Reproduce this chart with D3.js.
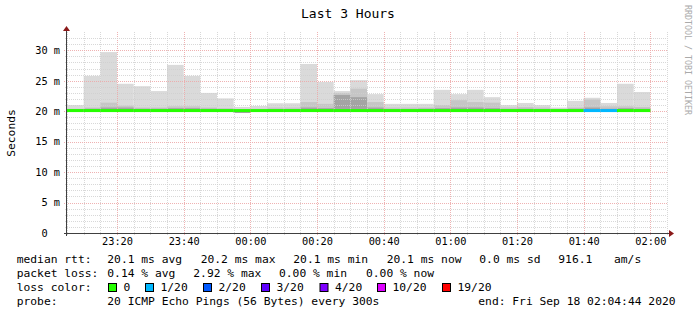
<!DOCTYPE html>
<html>
<head>
<meta charset="utf-8">
<script src="https://cdn.jsdelivr.net/npm/d3@7"></script>
<style>
body { margin: 0; background: #fff; }
text { font-family: "DejaVu Sans Mono", monospace; }
</style>
</head>
<body>
<svg id="chart"></svg>
<script>
// 5 minute steps (start of each step)
const stepTimes = ["23:05","23:10","23:15","23:20","23:25","23:30","23:35","23:40","23:45","23:50","23:55",
  "00:00","00:05","00:10","00:15","00:20","00:25","00:30","00:35","00:40","00:45","00:50","00:55",
  "01:00","01:05","01:10","01:15","01:20","01:25","01:30","01:35","01:40","01:45","01:50","01:55"];
// smoke layers in ms
const smokeMax  = [21.0,25.8,29.7,24.5,24.1,23.3,27.6,25.8,23.0,22.1,20.7, 20.85,21.3,21.3,27.75,24.8,23.3,25.1,22.8,21.2,21.2,21.2,23.5, 22.8,23.5,22.3,21.0,21.35,21.0,20.6,21.7,22.2,21.35,24.5,23.15];
const smokeMid  = [20.4,20.6,21.4,20.9,20.6,20.6,20.8,20.8,20.6,20.5,20.3, 20.4,20.6,20.6,21.5,21.2,23.0,23.7,21.5,20.6,20.6,20.6,21.0, 21.8,21.5,21.4,20.6,20.7,20.6,20.4,20.6,21.9,20.8,20.8,20.7];
const smokeCore = [20.3,20.4,20.6,20.6,20.4,20.4,20.5,20.5,20.4,20.3,20.1, 20.2,20.3,20.3,20.6,20.5,22.65,22.3,20.6,20.3,20.3,20.4,20.5, 20.6,20.6,20.5,20.3,20.4,20.3,20.2,20.4,20.6,20.4,20.5,20.4];
const smokeMin  = [19.9,19.9,19.9,19.9,19.9,19.9,19.9,19.9,19.9,19.9,19.7, 19.9,19.9,19.9,19.9,19.9,19.9,19.9,19.9,19.9,19.9,19.9,19.9, 19.9,19.9,19.9,19.9,19.9,19.9,19.9,19.9,19.9,19.9,19.9,19.9];
const medianRtt = [20.1,20.1,20.1,20.1,20.1,20.1,20.1,20.1,20.1,20.1,20.1, 20.1,20.1,20.1,20.1,20.1,20.1,20.1,20.1,20.1,20.1,20.1,20.1, 20.1,20.1,20.1,20.1,20.1,20.1,20.1,20.1,20.1,20.1,20.1,20.1];
const lossCount = [0,0,0,0,0,0,0,0,0,0,0, 0,0,0,0,0,0,0,0,0,0,0,0, 0,0,0,0,0,0,0,0,1,1,0,0];

const lossLabels = ["0","1/20","2/20","3/20","4/20","10/20","19/20"];
const lossColors = ["#26ff00","#00b8ff","#0059ff","#5e00ff","#7e00ff","#dd00ff","#ff0000"];
const lossLevels = [0,1,2,3,4,10,19];

const yTicks = [0,5,10,15,20,25,30];

const W = 697, H = 315;
const plotL = 67, plotR = 667, plotT = 32, plotB = 233;

const svg = d3.select("#chart").attr("width", W).attr("height", H);

const toDate = s => {
  const [h, m] = s.split(":").map(Number);
  return new Date(Date.UTC(2020, 8, h < 12 ? 18 : 17, h, m));
};
const t0 = new Date(Date.UTC(2020, 8, 17, 23, 5));
const t1 = new Date(Date.UTC(2020, 8, 18, 2, 5));

const x = d3.scaleUtc().domain([t0, t1]).range([plotL, plotR]);
const y = d3.scaleLinear().domain([0, 33]).range([plotB, plotT]);

const steps = stepTimes.map((s, i) => ({
  t: toDate(s), t2: d3.utcMinute.offset(toDate(s), 5),
  max: smokeMax[i], mid: smokeMid[i], core: smokeCore[i], min: smokeMin[i],
  med: medianRtt[i], loss: lossCount[i]
}));

// smoke
const layers = [["max", "#dadada"], ["mid", "#c6c6c6"], ["core", "#a4a4a4"]];
layers.forEach(([key, col]) => {
  svg.append("g").selectAll("rect").data(steps).enter().append("rect")
    .attr("x", d => x(d.t))
    .attr("width", d => x(d.t2) - x(d.t))
    .attr("y", d => y(d[key]))
    .attr("height", d => y(d.min) - y(d[key]))
    .attr("fill", col);
});

// grid
const grid = svg.append("g");
const minorCol = "#cfcfcf", majorCol = "#eeaaaa";
const minorX = d3.utcMinute.every(5).range(t0, d3.utcMinute.offset(t1, 1));
minorX.forEach(t => {
  const major = t.getUTCMinutes() % 20 === 0;
  const px = Math.round(x(t)) + 0.5;
  grid.append("line").attr("x1", px).attr("x2", px).attr("y1", plotT).attr("y2", plotB + (major ? 3 : 2))
    .attr("stroke", major ? majorCol : minorCol).attr("stroke-dasharray", "1,1").attr("opacity", major ? 0.9 : 0.8);
});
d3.range(1, 33).forEach(v => {
  const major = v % 5 === 0;
  const py = Math.round(y(v)) + 0.5;
  grid.append("line").attr("x1", plotL - (major ? 3 : 2)).attr("x2", plotR).attr("y1", py).attr("y2", py)
    .attr("stroke", major ? majorCol : minorCol).attr("stroke-dasharray", "1,1").attr("opacity", major ? 0.9 : 0.8);
});

// median line coloured by loss
const lossColor = n => lossColors[lossLevels.findIndex((l, i) => n >= l && (i === lossLevels.length - 1 || n < lossLevels[i + 1]))];
svg.append("g").selectAll("line").data(steps).enter().append("line")
  .attr("x1", d => x(d.t)).attr("x2", d => x(d.t2))
  .attr("y1", d => y(d.med)).attr("y2", d => y(d.med))
  .attr("stroke", d => lossColor(d.loss)).attr("stroke-width", 3);

// axes
const axisCol = "#404040", arrowCol = "#8b1a1a";
svg.append("line").attr("x1", plotL - 3).attr("x2", plotR + 3).attr("y1", plotB + 0.5).attr("y2", plotB + 0.5)
  .attr("stroke", axisCol);
svg.append("line").attr("x1", plotL - 0.5).attr("x2", plotL - 0.5).attr("y1", plotT - 2).attr("y2", plotB + 3)
  .attr("stroke", axisCol);
svg.append("path").attr("d", `M${plotR + 2},${plotB - 3} L${plotR + 7},${plotB + 0.5} L${plotR + 2},${plotB + 4} Z`).attr("fill", arrowCol);
svg.append("path").attr("d", `M${plotL - 4},${plotT - 1} L${plotL - 0.5},${plotT - 6} L${plotL + 3},${plotT - 1} Z`).attr("fill", arrowCol);

const xAxis = d3.axisBottom(x).ticks(d3.utcMinute.every(20)).tickFormat(d3.utcFormat("%H:%M")).tickSize(0).tickPadding(5);
svg.append("g").attr("transform", `translate(0,${plotB})`).call(xAxis)
  .call(g => g.select(".domain").remove())
  .selectAll("text").attr("font-family", "DejaVu Sans Mono").attr("font-size", "10.3px").attr("fill", "#000");

const yAxis = d3.axisLeft(y).tickValues(yTicks).tickFormat(d => d === 0 ? "0\u00a0\u00a0" : d + "\u00a0m").tickSize(0).tickPadding(7);
svg.append("g").attr("transform", `translate(${plotL},0)`).call(yAxis)
  .call(g => g.select(".domain").remove())
  .selectAll("text").attr("font-family", "DejaVu Sans Mono").attr("font-size", "10.3px").attr("fill", "#000");

// titles
svg.append("text").attr("x", 348).attr("y", 18).attr("text-anchor", "middle").attr("font-size", "13px").text("Last 3 Hours");
svg.append("text").attr("transform", "translate(15,133) rotate(-90)").attr("text-anchor", "middle")
  .attr("font-size", "11.3px").text("Seconds");
svg.append("text").attr("transform", "translate(685,5) rotate(90)").attr("font-size", "8.3px").attr("fill", "#aaa")
  .text("RRDTOOL / TOBI OETIKER");

// legend
const fs = "11.3px";
const row = (yy, items) => items.forEach(([xx, s]) =>
  svg.append("text").attr("x", xx).attr("y", yy).attr("font-size", fs).text(s));
row(262.5, [[16.7, "median rtt:"], [107.3, "20.1 ms avg"], [200.7, "20.2 ms max"], [293.3, "20.1 ms min"],
  [386.7, "20.1 ms now"], [479.3, "0.0 ms sd"], [558.3, "916.1"], [614, "am/s"]]);
row(276.5, [[16.7, "packet loss:"], [107.3, "0.14 % avg"], [193.3, "2.92 % max"], [279, "0.00 % min"], [366, "0.00 % now"]]);
row(290.5, [[16.7, "loss color:"]]);
row(305, [[16.7, "probe:"], [107.3, "20 ICMP Echo Pings (56 Bytes) every 300s"], [478.3, "end: Fri Sep 18 02:04:44 2020"]]);

const boxX = [108.5, 145.5, 203.5, 261.5, 320, 377.5, 442.5];
lossLabels.forEach((lab, i) => {
  svg.append("rect").attr("x", boxX[i]).attr("y", 283.5).attr("width", 8).attr("height", 8)
    .attr("fill", lossColors[i]).attr("stroke", "#000");
  svg.append("text").attr("x", boxX[i] + 15).attr("y", 290.5).attr("font-size", fs).text(lab);
});
</script>
</body>
</html>
